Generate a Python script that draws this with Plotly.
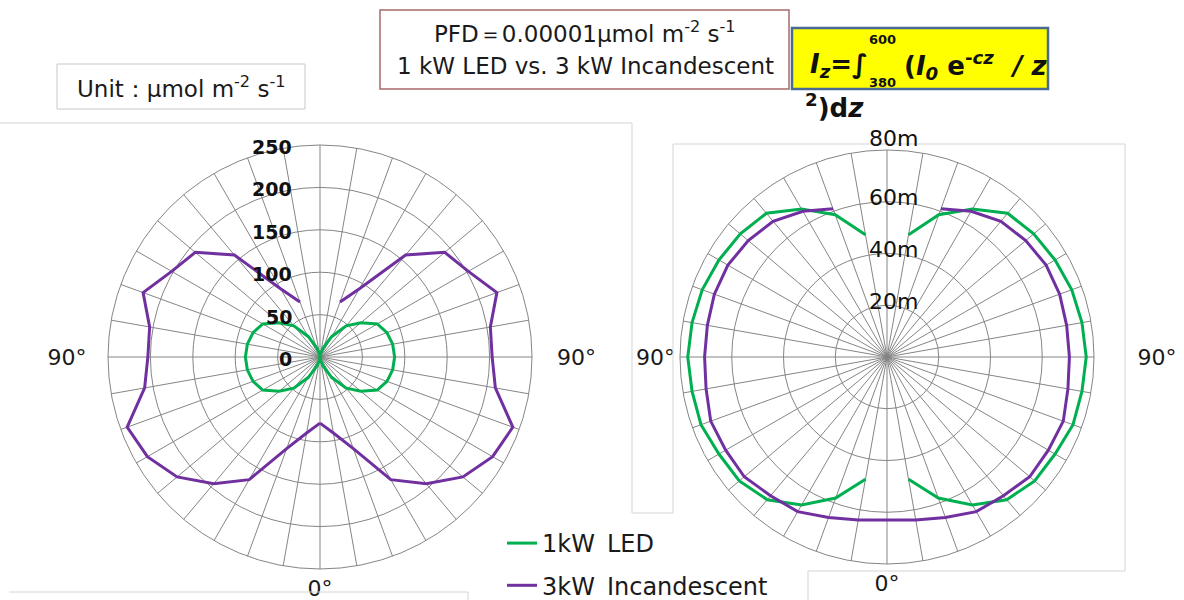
import plotly.graph_objects as go

W, H = 1184, 600

# ---------------- data (angle measured from the downward 0° direction, mirrored) ----------------
ANGLES = list(range(0, 181, 10))
# left chart: PFD, µmol m-2 s-1
LED_1KW_PFD = [0, 4, 12, 28, 48, 63, 78, 84, 87, 88, 87, 84, 78, 63, 48, 28, 12, 4, 0]
INC_3KW_PFD = [78, 91, 115, 167, 195, 220, 235, 242, 210, 203, 204, 222, 202, 192, 157, 93, 69, None, None]
# right chart: distance (m) where PFD = 0.00001
LED_1KW_DIST = [None, 48, 58, 66, 72, 74.5, 75, 76.5, 76.5, 77, 76.5, 76, 75, 74, 72.5, 66, 58.5, 48, None]
INC_3KW_DIST = [63, 64, 66, 69, 70, 72, 72, 72.5, 71, 70.5, 70.5, 71, 71, 70, 68.5, 65, 61, None, None]

PFD_TICKS = [0, 50, 100, 150, 200, 250]
PFD_LABELS = ["0", "50", "100", "150", "200", "250"]
DIST_TICKS = [20, 40, 60, 80]
DIST_LABELS = ["20m", "40m", "60m", "80m"]
SERIES_NAMES = ["1kW\u2002LED", "3kW\u2002Incandescent"]
GREEN = "#00B050"
PURPLE = "#7030A0"
GRID = "#858585"
FONT = "DejaVu Sans"


def mirror(vals):
    theta = ANGLES + [360 - a for a in reversed(ANGLES[:-1])]
    r = list(vals) + list(vals[-2::-1])
    return r, theta


def px(x):
    return x / W


def py(y):
    return 1 - y / H


fig = go.Figure()
for vals, color, name, show, sub in [
    (LED_1KW_PFD, GREEN, SERIES_NAMES[0], True, "polar"),
    (INC_3KW_PFD, PURPLE, SERIES_NAMES[1], True, "polar"),
    (LED_1KW_DIST, GREEN, SERIES_NAMES[0], False, "polar2"),
    (INC_3KW_DIST, PURPLE, SERIES_NAMES[1], False, "polar2"),
]:
    r, th = mirror(vals)
    fig.add_trace(go.Scatterpolar(r=r, theta=th, mode="lines", name=name,
                                  line=dict(color=color, width=3), connectgaps=False,
                                  showlegend=show, legendgroup=name, subplot=sub))

ang_vals = list(range(0, 360, 10))


def angular(left_pad, right_pad):
    text = []
    for a in ang_vals:
        if a == 0:
            text.append("0°")
        elif a == 90:
            text.append(right_pad + "90°")
        elif a == 270:
            text.append("90°" + left_pad)
        else:
            text.append("")
    return dict(rotation=-90, direction="counterclockwise", tickmode="array",
                tickvals=ang_vals, ticktext=text, showgrid=True, gridcolor=GRID,
                gridwidth=1, showline=True, linecolor=GRID, linewidth=1,
                ticks="",
                tickfont=dict(size=22, color="#1a1a1a", family=FONT))


# polar domains (pixel boxes -> paper)
L_BOX = (108, 532, 145, 569)
R_BOX = (680, 1094, 150, 564)

fig.update_layout(
    width=W, height=H, margin=dict(l=0, r=0, t=0, b=0, autoexpand=False),
    paper_bgcolor="white", plot_bgcolor="white",
    font=dict(family=FONT, color="#1a1a1a"),
    polar=dict(
        domain=dict(x=[px(L_BOX[0]), px(L_BOX[1])], y=[py(L_BOX[3]), py(L_BOX[2])]),
        bgcolor="white", hole=0,
        angularaxis=angular("\u2002\u2005", "\u2002\u2005\u2006"),
        radialaxis=dict(range=[0, 250], tickmode="array", tickvals=PFD_TICKS,
                        angle=90, showticklabels=False, showline=False,
                        gridcolor=GRID, gridwidth=1, ticks=""),
    ),
    polar2=dict(
        domain=dict(x=[px(R_BOX[0]), px(R_BOX[1])], y=[py(R_BOX[3]), py(R_BOX[2])]),
        bgcolor="white", hole=0,
        angularaxis=angular("", "\u2003\u2002\u2005"),
        radialaxis=dict(range=[0, 80], tickmode="array", tickvals=DIST_TICKS,
                        angle=90, showticklabels=False, showline=False,
                        gridcolor=GRID, gridwidth=1, ticks=""),
    ),
    legend=dict(x=px(502), y=py(521), xanchor="left", yanchor="top",
                font=dict(size=24, color="#1a1a1a", family=FONT),
                traceorder="grouped", tracegroupgap=8, bgcolor="rgba(0,0,0,0)"),
)

shapes = []
frame = dict(color="#d4d4d4", width=1)


def path(points):
    return "M " + " L ".join(f"{px(x):.5f},{py(y):.5f}" for x, y in points)


shapes.append(dict(type="path", xref="paper", yref="paper",
                   path=path([(0, 123), (632, 123), (632, 513), (673, 513)]), line=frame))
shapes.append(dict(type="path", xref="paper", yref="paper",
                   path=path([(673, 513), (673, 144), (1125, 144), (1125, 571), (808, 571), (808, 600)]),
                   line=frame))
shapes.append(dict(type="path", xref="paper", yref="paper",
                   path=path([(9, 592), (468, 592), (468, 600)]), line=frame))
# Unit box
shapes.append(dict(type="rect", xref="paper", yref="paper", x0=px(57), x1=px(305), y0=py(109), y1=py(64),
                   line=dict(color="#c8c8c8", width=1), fillcolor="white"))
# PFD box
shapes.append(dict(type="rect", xref="paper", yref="paper", x0=px(380), x1=px(789), y0=py(89), y1=py(10),
                   line=dict(color="#a86a6a", width=1.5), fillcolor="white"))
# Yellow formula box
shapes.append(dict(type="rect", xref="paper", yref="paper", x0=px(792), x1=px(1048), y0=py(89), y1=py(28),
                   line=dict(color="#4a6a94", width=2.5), fillcolor="#FFFF00"))
fig.update_layout(shapes=shapes)

ann = []


def text(x, y, s, size, anchor="center", color="#1a1a1a"):
    ann.append(dict(x=px(x), y=py(y), xref="paper", yref="paper",
                    text=s, showarrow=False, xanchor=anchor, yanchor="middle",
                    font=dict(size=size, color=color, family=FONT)))


# radial tick labels placed on each polar's own radial scale
l_cx = (L_BOX[0] + L_BOX[1]) / 2
l_cy = (L_BOX[2] + L_BOX[3]) / 2
l_rad = (L_BOX[1] - L_BOX[0]) / 2
for v, lab in zip(PFD_TICKS, PFD_LABELS):
    ypix = l_cy - v / 250 * l_rad + 2
    text(l_cx - 26, ypix, f"<b>{lab}</b>", 19, "right", "#111")

r_cx = (R_BOX[0] + R_BOX[1]) / 2
r_cy = (R_BOX[2] + R_BOX[3]) / 2
r_rad = (R_BOX[1] - R_BOX[0]) / 2
for v, lab in zip(DIST_TICKS, DIST_LABELS):
    lift = 12 if v == DIST_TICKS[-1] else 4
    ypix = r_cy - v / 80 * r_rad - lift
    text(r_cx + 6, ypix, lab, 22, "center", "#111")

text(181, 87, "Unit：μmol m<sup>-2</sup> s<sup>-1</sup>", 23)
text(585, 32, "PFD＝0.00001μmol m<sup>-2</sup> s<sup>-1</sup>", 23)
text(585, 66, "1 kW LED vs. 3 kW Incandescent", 23)
text(808, 66, "<b><i>I<sub>z</sub></i>=∫</b>", 26, "left", "#111")
text(883, 40, "<b>600</b>", 13, "center", "#111")
text(883, 82, "<b>380</b>", 13, "center", "#111")
text(902, 66, "<b>(<i>I<sub>0</sub></i> e<sup>-<i>cz</i></sup></b>", 26, "left", "#111")
text(1008, 66, "<b><i>/ z</i></b>", 26, "left", "#111")
text(803, 106, "<b><sup>2</sup>)d<i>z</i></b>", 26, "left", "#111")
fig.update_layout(annotations=ann)

fig.write_html("out.html")
